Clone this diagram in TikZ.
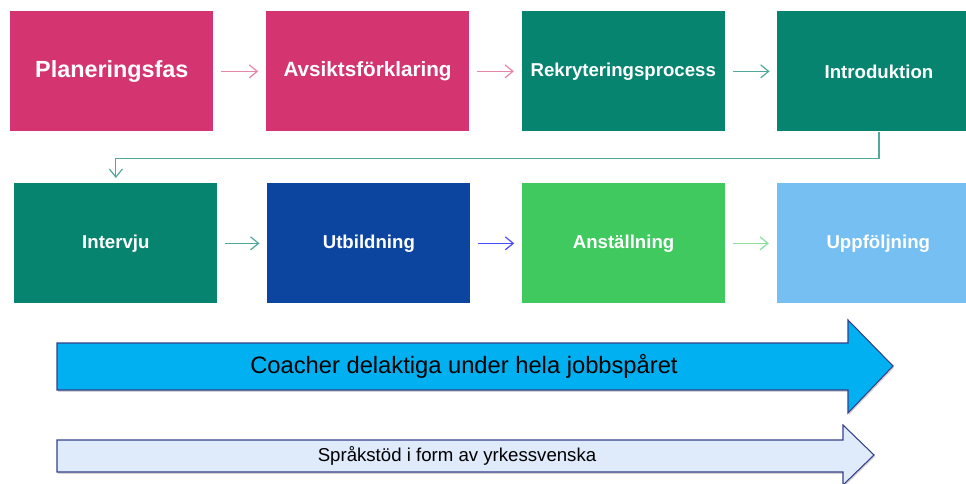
\documentclass[tikz,border=0pt]{standalone}
\usepackage{fontspec}
\setmainfont{Liberation Sans}
\usetikzlibrary{arrows.meta, positioning, shadows}

\definecolor{rosa}{HTML}{D43571}
\definecolor{teal}{HTML}{078470}
\definecolor{morkbla}{HTML}{0B45A0}
\definecolor{gron}{HTML}{3FC95F}
\definecolor{ljusbla}{HTML}{75BFF2}
\definecolor{cyan}{HTML}{00B0F0}
\definecolor{blek}{HTML}{DFEAFB}
\definecolor{kant}{HTML}{34408A}

\begin{document}
\begin{tikzpicture}[
    node distance=1.04cm,
    fas/.style={
        minimum width=4.06cm,
        minimum height=2.4cm,
        text=white,
        font=\bfseries\fontsize{10.6}{12}\selectfont,
        inner sep=0pt
    },
    steg/.style={-{Straight Barb[length=1.6mm, width=2.6mm]}, line width=0.7pt, shorten <=1.5mm, shorten >=1.5mm},
    pil/.style={draw=kant, line width=0.6pt, drop shadow={opacity=0.35, shadow xshift=0.6pt, shadow yshift=-1pt}}
]
\useasboundingbox (0,0) rectangle (19.32,-9.68);

% Row 1
\node[fas, fill=rosa, anchor=north west, font=\bfseries\fontsize{13.3}{15}\selectfont] (plan) at (0.2,-0.22) {Planeringsfas};
\node[fas, fill=rosa, right=of plan, font=\bfseries\fontsize{11.75}{13}\selectfont] (avsikt) {Avsiktsförklaring};
\node[fas, fill=teal, right=of avsikt] (rekry) {Rekryteringsprocess};
\node[fas, fill=teal, right=of rekry] (intro) {Introduktion};

% Row 2
\node[fas, fill=teal, anchor=north west] (interv) at (0.28,-3.66) {Intervju};
\node[fas, fill=morkbla, anchor=north west] (utb) at (5.34,-3.66) {Utbildning};
\node[fas, fill=gron, right=1.02cm of utb] (anst) {Anställning};
\node[fas, fill=ljusbla, right=1.02cm of anst] (uppf) {Uppföljning};

% Steps
\draw[steg, rosa!60] (plan) -- (avsikt);
\draw[steg, rosa!60] (avsikt) -- (rekry);
\draw[steg, teal!70] (rekry) -- (intro);
\draw[steg, teal!70, shorten <=0pt, shorten >=1mm] (intro.south) -- ++(0,-0.54) -| (interv.north);
\draw[steg, teal!70] (interv) -- (utb);
\draw[steg, blue!70] (utb) -- (anst);
\draw[steg, gron!60] (anst) -- (uppf);

% Long arrows below
\draw[pil, fill=cyan] (1.14,-6.86) -- (16.96,-6.86) -- (16.96,-6.4) -- (17.86,-7.32)
    -- (16.96,-8.26) -- (16.96,-7.8) -- (1.14,-7.8) -- cycle;
\node[font=\fontsize{13.5}{15}\selectfont] (coach) at (9.28,-7.33) {Coacher delaktiga under hela jobbspåret};

\draw[pil, fill=blek] (1.14,-8.8) -- (16.86,-8.8) -- (16.86,-8.5) -- (17.48,-9.1)
    -- (16.86,-9.7) -- (16.86,-9.44) -- (1.14,-9.44) -- cycle;
\node[font=\fontsize{10.6}{12}\selectfont] (sprak) at (9.14,-9.12) {Språkstöd i form av yrkessvenska};
\end{tikzpicture}
\end{document}
